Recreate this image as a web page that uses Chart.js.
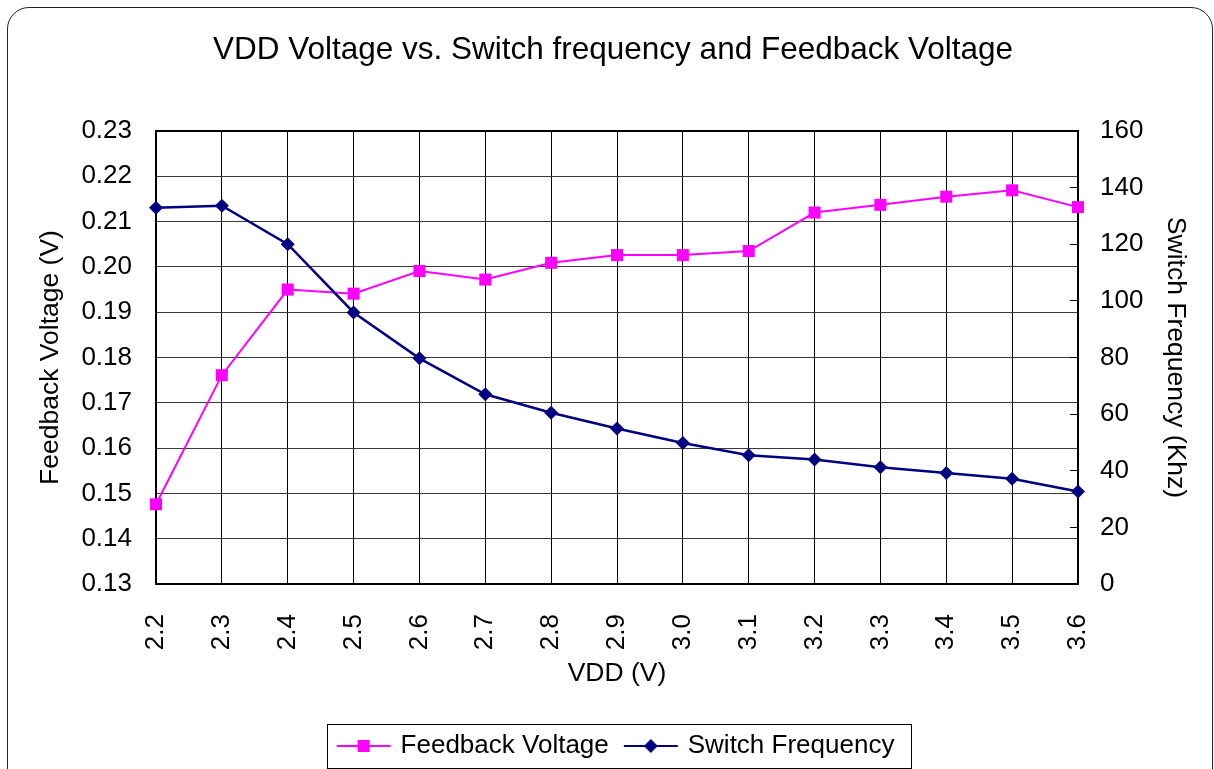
<!DOCTYPE html>
<html>
<head>
<meta charset="utf-8">
<script src="https://cdn.jsdelivr.net/npm/chart.js@4"></script>
<style>
  html, body { margin: 0; padding: 0; background: #fff; }
  #wrap { position: relative; width: 1214px; height: 769px; overflow: hidden; }
  #frame {
    position: absolute; left: 7px; top: 7px; width: 1204px; height: 790px;
    border: 1px solid #222; border-radius: 22px; pointer-events: none;
  }
</style>
</head>
<body>
<div id="wrap">
  <canvas id="chart" width="1214" height="769"></canvas>
  <div id="frame"></div>
</div>
<script>
const vdd = ['2.2', '2.3', '2.4', '2.5', '2.6', '2.7', '2.8', '2.9', '3.0', '3.1', '3.2', '3.3', '3.4', '3.5', '3.6']
const feedbackVoltage = [0.1476, 0.1761, 0.1950, 0.1941, 0.1991, 0.1972, 0.2009, 0.2026, 0.2026, 0.2035, 0.2120, 0.2137, 0.2155, 0.2169, 0.2132]
const switchFrequency = [132.9, 133.6, 120.0, 95.9, 79.7, 67.0, 60.5, 54.9, 49.8, 45.5, 44.0, 41.2, 39.2, 37.2, 32.7]

const PINK = '#ff00ff'
const NAVY = '#000080'
const FONT = "'Liberation Sans', Arial, sans-serif"

// little line + marker pictures for the legend
const legendIcon = function (color, marker) {
  const c = document.createElement('canvas')
  c.width = 64
  c.height = 20
  const g = c.getContext('2d')
  g.strokeStyle = color
  g.lineWidth = 2
  g.beginPath()
  g.moveTo(9, 10)
  g.lineTo(63, 10)
  g.stroke()
  g.fillStyle = color
  g.beginPath()
  if (marker === 'square') {
    g.rect(30, 4, 12, 12)
  } else {
    g.moveTo(36, 3); g.lineTo(43, 10); g.lineTo(36, 17); g.lineTo(29, 10); g.closePath()
  }
  g.fill()
  return c
}
const icons = [legendIcon(PINK, 'square'), legendIcon(NAVY, 'diamond')]

// box around the legend
const legendFrame = {
  id: 'legendFrame',
  afterDraw(chart) {
    const boxes = chart.legend.legendHitBoxes
    if (!boxes || !boxes.length) return
    const first = boxes[0]
    const last = boxes[boxes.length - 1]
    const left = Math.round(first.left - 5) + 0.5
    const right = Math.round(last.left + last.width + 17) + 0.5
    const top = Math.round(first.top - 9) + 0.5
    const bottom = Math.round(first.top + 35) + 0.5
    const ctx = chart.ctx
    ctx.save()
    ctx.strokeStyle = '#000'
    ctx.lineWidth = 1
    ctx.strokeRect(left, top, right - left, bottom - top)
    ctx.restore()
  }
}

Chart.defaults.font.family = FONT
Chart.defaults.color = '#000'

const ctx = document.getElementById('chart')

const chart = new Chart(ctx, {
  type: 'line',
  data: {
    labels: vdd,
    datasets: [
      {
        label: 'Feedback Voltage',
        data: feedbackVoltage,
        yAxisID: 'y',
        borderColor: PINK,
        backgroundColor: PINK,
        borderWidth: 2,
        pointStyle: 'rect',
        pointRadius: 8.5,
        pointHoverRadius: 8.5,
        pointBorderWidth: 0,
        tension: 0,
        clip: false,
        order: 1
      },
      {
        label: 'Switch Frequency',
        data: switchFrequency,
        yAxisID: 'y1',
        borderColor: NAVY,
        backgroundColor: NAVY,
        borderWidth: 2.5,
        pointStyle: 'rectRot',
        pointRadius: 7,
        pointHoverRadius: 7,
        pointBorderWidth: 0,
        tension: 0,
        clip: false,
        order: 0
      }
    ]
  },
  options: {
    responsive: false,
    animation: false,
    layout: {
      padding: { top: 0, left: 31, right: 19, bottom: 0 }
    },
    scales: {
      x: {
        afterFit: s => { s.height = 139 },
        grid: { color: '#000', lineWidth: 1, drawTicks: false },
        border: { display: true, color: '#000', width: 2 },
        ticks: {
          autoSkip: false, minRotation: 90, maxRotation: 90, padding: 30,
          font: { size: 26 }
        },
        title: {
          display: true, text: 'VDD (V)', font: { size: 26.5 },
          padding: { top: 0, bottom: 33 }
        }
      },
      y: {
        position: 'left',
        min: 0.13,
        max: 0.23,
        afterFit: s => { s.width = 125 },
        grid: {
          drawTicks: false,
          color: c => c.index === 10 ? '#000' : '#3a3a3a',
          lineWidth: c => c.index === 10 ? 2 : 1
        },
        border: { display: true, color: '#000', width: 2 },
        ticks: {
          stepSize: 0.01, padding: 24, font: { size: 26 },
          callback: v => Number(v).toFixed(2)
        },
        title: { display: true, text: 'Feedback Voltage (V)', font: { size: 26.5 } }
      },
      y1: {
        position: 'right',
        min: 0,
        max: 160,
        afterFit: s => { s.width = 117 },
        grid: { drawOnChartArea: false, drawTicks: true, tickLength: -8, color: '#000' },
        border: { display: true, color: '#000', width: 2 },
        ticks: { stepSize: 20, padding: 30, font: { size: 26 } },
        title: { display: true, text: 'Switch Frequency (Khz)', font: { size: 26.5 } }
      }
    },
    plugins: {
      title: {
        display: true,
        text: 'VDD Voltage vs. Switch frequency and Feedback Voltage',
        font: { size: 31.5, weight: 'normal' },
        color: '#000',
        padding: { top: 31, bottom: 62.2 }
      },
      legend: {
        position: 'bottom',
        labels: {
          usePointStyle: true,
          pointStyleWidth: 56,
          padding: 10,
          font: { size: 26 },
          color: '#000',
          generateLabels: function (chart) {
            const items = Chart.defaults.plugins.legend.labels.generateLabels(chart)
            items.sort((a, b) => a.datasetIndex - b.datasetIndex)
            items.forEach(it => {
              it.pointStyle = icons[it.datasetIndex]
              it.lineWidth = 0
            })
            return items
          }
        }
      },
      tooltip: { enabled: false }
    }
  },
  plugins: [legendFrame]
})
</script>
</body>
</html>
